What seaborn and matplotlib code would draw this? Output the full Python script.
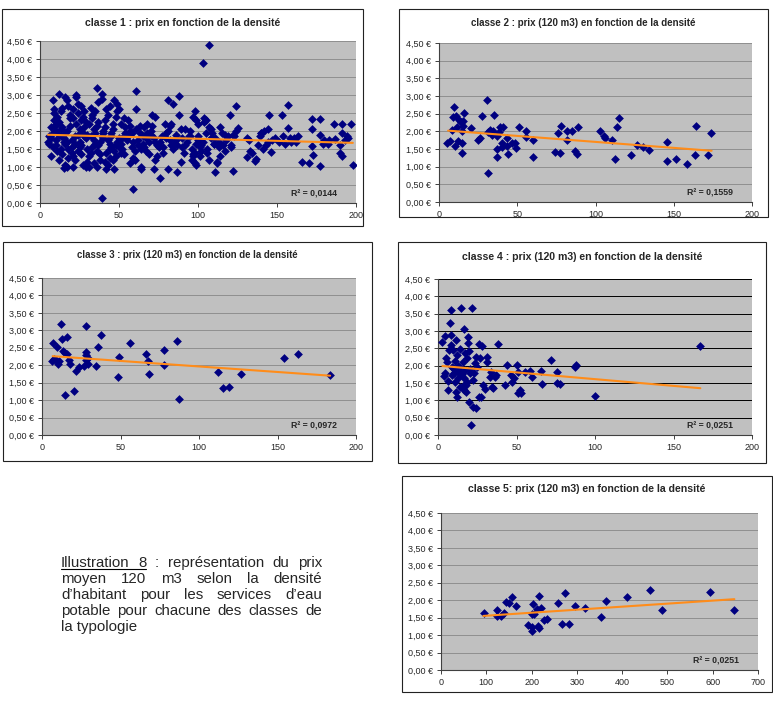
import matplotlib
matplotlib.use("Agg")
import matplotlib.pyplot as plt
import seaborn as sns
import pandas as pd
from matplotlib.ticker import FuncFormatter, MultipleLocator
from matplotlib.patches import Rectangle
from matplotlib.lines import Line2D

# ---------------- DATA ----------------
# classe 1 : densité (hab/km2) et prix (€)
dens1 = [5, 6, 7, 7, 8, 9, 9, 6, 8, 9, 7, 8, 9, 10,
         12, 11, 12, 13, 10, 11, 12, 13, 14, 10, 11, 12, 13, 14, 14, 13, 15,
         16, 17, 15, 16, 17, 18, 18, 19, 15, 16, 17, 18, 19, 20, 16, 19, 17, 20,
         23, 23, 21, 22, 21, 24, 20, 22, 23, 24, 21, 25, 22, 24, 21, 25, 24,
         27, 29, 26, 27, 28, 26, 29, 27, 28, 26, 30, 29, 25, 28, 30, 26,
         31, 32, 33, 31, 34, 32, 33, 30, 34, 35, 31, 33, 32, 34, 35,
         36, 37, 39, 36, 38, 35, 37, 38, 36, 39, 40, 37, 38, 36, 39, 39, 40,
         41, 42, 43, 41, 42, 43, 44, 40, 41, 42, 44, 43, 45, 44, 44, 45,
         47, 47, 46, 48, 46, 49, 45, 47, 48, 49, 50, 46, 48, 49, 50,
         50, 51, 52, 53, 51, 54, 52, 53, 55, 54, 51, 55,
         56, 57, 56, 58, 57, 59, 58, 59, 60, 57, 59,
         61, 61, 62, 60, 63, 61, 64, 62, 65, 63, 64, 64,
         66, 67, 68, 66, 69, 68, 67, 70, 65, 69,
         71, 73, 72, 73, 74, 71, 72, 74, 70, 73, 75,
         76, 77, 78, 79, 76, 80, 78,
         81, 84, 81, 82, 83, 80, 84, 82, 83, 85, 81,
         88, 87, 89, 88, 86, 87, 89, 90, 86, 90,
         92, 91, 93, 94, 92, 95,
         98, 97, 99, 96, 97, 98, 95, 99, 96, 100, 98, 99, 100, 97,
         103, 104, 104, 101, 102, 103, 100, 105, 101, 102, 105,
         107, 107, 107, 106, 108, 109, 110, 106, 108,
         111, 112, 112, 113, 111, 114, 115, 113, 114, 110,
         116, 117, 118, 120, 119, 117,
         124, 122, 121, 123, 122, 124, 121, 125,
         131, 131, 133, 132, 134,
         136, 137, 139, 138, 140,
         141, 143, 140, 142, 144, 144,
         145, 146, 147, 149,
         151, 153, 154, 155,
         157, 157, 158, 159,
         161, 162, 163,
         166, 170,
         172, 172, 172, 173,
         177, 177, 177, 180, 179,
         183, 182,
         186, 187,
         191, 191, 190, 190, 191, 194, 193,
         197, 198, 195]
prix1 = [1.70, 1.85, 2.10, 1.30, 2.85, 2.60, 2.15, 1.65, 1.95, 2.50, 1.80, 1.55, 2.30, 2.00,
         3.02, 2.20, 1.20, 1.50, 1.75, 2.40, 1.90, 2.05, 2.65, 1.60, 1.45, 2.25, 1.85, 2.10, 1.35, 2.55, 1.70,
         2.95, 2.85, 0.98, 1.05, 1.00, 1.50, 2.70, 2.35, 1.80, 1.65, 2.00, 1.25, 2.15, 1.40, 1.95, 2.45, 1.70, 1.55,
         3.00, 2.95, 1.00, 1.20, 2.60, 2.50, 1.75, 1.85, 2.20, 1.45, 1.30, 2.05, 1.65, 1.90, 2.35, 1.55, 2.75,
         1.05, 1.00, 2.70, 2.40, 2.55, 1.60, 1.80, 1.95, 2.10, 1.35, 1.50, 2.25, 1.70, 1.85, 1.15, 2.30,
         1.00, 2.65, 2.45, 2.20, 1.75, 1.40, 1.55, 1.90, 2.05, 1.65, 1.30, 2.35, 1.85, 1.10, 1.95,
         3.20, 2.80, 0.15, 1.00, 1.20, 2.55, 2.25, 1.70, 1.45, 1.85, 2.00, 1.60, 1.35, 2.15, 3.02, 2.90, 1.80,
         1.15, 0.95, 1.05, 2.30, 2.60, 1.75, 1.50, 1.95, 2.10, 1.40, 1.65, 2.45, 1.85, 1.25, 2.70, 1.55,
         2.85, 0.95, 1.20, 2.40, 2.20, 1.70, 1.95, 1.45, 1.60, 2.55, 1.80, 2.05, 1.30, 2.75, 1.55,
         2.60, 2.20, 1.80, 1.35, 1.65, 1.95, 1.50, 2.35, 1.75, 2.10, 1.40, 1.85,
         2.30, 1.10, 1.85, 1.55, 2.15, 1.70, 1.95, 0.40, 1.45, 2.00, 1.25,
         3.10, 2.62, 1.75, 1.20, 1.95, 2.05, 1.50, 1.60, 1.85, 2.15, 1.00, 0.95,
         2.10, 1.80, 1.95, 1.55, 1.70, 2.20, 1.45, 1.90, 1.65, 1.35,
         2.45, 2.40, 0.95, 1.20, 1.30, 2.15, 1.80, 1.60, 2.00, 1.70, 1.55,
         0.70, 1.85, 1.55, 2.20, 1.70, 1.95, 1.40,
         2.85, 2.75, 0.95, 2.15, 1.60, 1.80, 1.50, 1.75, 2.20, 1.65, 2.00,
         2.98, 0.85, 1.15, 2.45, 1.75, 1.60, 2.05, 1.55, 1.90, 1.80,
         2.05, 1.40, 1.70, 1.85, 1.60, 2.00,
         2.55, 2.40, 2.30, 1.20, 1.30, 1.40, 1.85, 1.65, 1.50, 2.20, 1.10, 1.05, 1.75, 1.35,
         3.90, 2.35, 2.25, 1.55, 1.45, 1.70, 1.85, 1.95, 1.30, 1.60, 2.30,
         4.40, 2.10, 1.20, 1.50, 1.80, 1.95, 1.65, 1.40, 2.05,
         0.87, 1.10, 1.15, 1.55, 1.80, 2.10, 1.95, 1.70, 1.30, 1.65,
         1.60, 1.45, 1.75, 2.45, 1.85, 1.90,
         2.70, 0.88, 1.55, 1.85, 1.90, 2.00, 1.60, 2.08,
         1.80, 1.28, 1.45, 1.75, 1.40,
         1.18, 1.22, 1.85, 1.60, 1.95,
         1.50, 1.60, 1.95, 2.00, 2.05, 1.70,
         2.45, 1.42, 1.75, 1.80,
         1.70, 2.45, 1.85, 1.65,
         2.73, 2.08, 1.80, 1.70,
         1.80, 1.70, 1.85,
         1.15, 1.12,
         2.33, 2.05, 1.58, 1.33,
         2.33, 1.02, 1.90, 1.75, 1.65,
         1.75, 1.65,
         2.20, 1.78,
         2.20, 1.95, 1.60, 1.38, 1.30, 1.85, 1.75,
         2.20, 1.05, 1.80]
trend1_x = [5, 198]
trend1_y = [1.895, 1.67]

# classe 2
dens2 = [5.1, 6.8, 8.5, 9.6, 9.0, 10.6, 10.4, 11.5, 12.6, 12.1,
         14.0, 14.7, 14.5, 14.5, 15.8, 15.5, 15.5, 20.7, 24.7, 26.2,
         27.7, 30.9, 31.5, 31.4, 32.9, 34.5, 33.8, 34.9, 36.8, 37.3,
         37.0, 38.8, 38.5, 40.0, 40.0, 41.1, 43.4, 43.2, 43.9, 46.9,
         48.7, 49.0, 50.9, 55.6, 55.6, 60.1, 60.3, 73.9, 75.8, 77.5,
         78.2, 81.8, 82.0, 85.2, 86.9, 88.2, 89.0, 102.7, 105.4, 106.3,
         110.5, 112.2, 114.0, 115.2, 122.5, 126.3, 130.3, 134.0, 145.7, 145.9,
         151.2, 158.5, 163.6, 164.0, 171.9, 173.8]
prix2 = [1.68, 1.72, 2.04, 2.68, 2.40, 2.44, 1.59, 2.13, 2.32, 1.73,
         2.27, 2.01, 1.68, 1.40, 2.51, 2.28, 2.15, 2.10, 1.75, 1.82,
         2.43, 2.89, 0.82, 1.97, 2.04, 2.02, 1.91, 2.46, 1.87, 1.50,
         1.26, 2.13, 1.99, 1.68, 1.56, 2.13, 1.80, 1.58, 1.36, 1.68,
         1.68, 1.54, 2.12, 2.01, 1.83, 1.75, 1.26, 1.42, 1.94, 1.40,
         2.16, 2.02, 1.75, 2.01, 1.44, 1.37, 2.13, 2.01, 1.88, 1.80,
         1.75, 1.23, 2.13, 2.37, 1.32, 1.61, 1.56, 1.46, 1.70, 1.16,
         1.21, 1.07, 1.33, 2.14, 1.33, 1.96]
trend2_x = [5.8, 174.2]
trend2_y = [2.02, 1.45]

# classe 3
dens3 = [6.4, 7.0, 7.8, 9.1, 9.8, 10.0, 10.8, 12.3, 12.7, 13.2,
         14.4, 14.8, 15.9, 15.7, 17.4, 18.0, 20.6, 21.6, 23.5, 26.5,
         27.8, 27.8, 27.8, 27.8, 29.3, 29.5, 34.1, 35.6, 37.8, 48.1,
         49.0, 56.2, 66.2, 67.4, 67.9, 77.4, 78.0, 85.9, 87.4, 112.4,
         115.6, 119.4, 127.0, 154.2, 162.9, 183.7]
prix3 = [2.11, 2.63, 2.19, 2.16, 2.51, 2.03, 2.11, 3.19, 2.76, 2.40,
         1.15, 2.36, 2.80, 2.33, 2.16, 2.04, 1.25, 1.84, 1.94, 1.97,
         3.13, 2.38, 2.28, 2.16, 2.21, 2.03, 1.99, 2.51, 2.86, 1.65,
         2.23, 2.63, 2.33, 2.11, 1.75, 2.45, 2.02, 2.68, 1.04, 1.82,
         1.34, 1.38, 1.76, 2.22, 2.33, 1.71]
trend3_x = [6.8, 183.5]
trend3_y = [2.26, 1.70]

# classe 4
dens4 = [2.8, 3.6, 4.7, 4.2, 5.3, 5.7, 6.4, 6.4, 7.4, 8.1,
         7.0, 8.5, 8.5, 8.9, 9.6, 9.6, 10.6, 11.3, 11.0, 11.7,
         12.1, 12.3, 12.7, 13.4, 13.8, 14.2, 14.9, 14.9, 15.9, 16.3,
         16.6, 16.8, 17.0, 17.4, 17.8, 18.5, 18.7, 19.1, 19.1, 19.5,
         19.9, 20.6, 21.7, 21.2, 22.3, 24.2, 22.9, 23.4, 24.0, 24.8,
         25.9, 26.1, 27.4, 28.0, 27.0, 28.7, 29.7, 30.9, 31.2, 32.9,
         34.0, 34.4, 35.2, 36.1, 37.2, 38.2, 42.5, 44.2, 46.3, 47.3,
         48.4, 50.3, 50.9, 50.9, 52.0, 52.7, 55.2, 58.4, 59.9, 65.8,
         66.2, 72.2, 75.8, 76.0, 77.7, 87.0, 87.7, 100.0, 166.7,
         10.0, 13.0, 15.5, 18.0, 20.5, 12.5, 16.0, 22.0, 9.0, 14.0]
prix4 = [2.69, 1.71, 2.87, 1.78, 2.21, 2.12, 1.56, 1.30, 3.24, 2.88,
         2.45, 3.61, 2.60, 1.73, 2.45, 1.92, 2.13, 2.73, 1.54, 1.25,
         1.11, 2.31, 1.85, 1.97, 2.48, 1.39, 3.65, 1.83, 2.12, 1.63,
         1.30, 3.06, 2.36, 1.88, 1.25, 2.21, 1.54, 2.84, 2.64, 0.96,
         2.43, 1.78, 3.67, 0.29, 0.82, 0.77, 1.78, 2.07, 2.26, 1.97,
         2.62, 1.11, 1.09, 2.57, 2.21, 1.44, 1.33, 2.26, 2.12, 1.68,
         1.83, 1.39, 1.35, 1.68, 1.73, 2.63, 1.44, 2.02, 1.73, 1.54,
         1.63, 2.02, 1.83, 1.20, 1.30, 1.20, 1.83, 1.85, 1.68, 1.85,
         1.47, 2.16, 1.81, 1.51, 1.46, 1.97, 2.02, 1.13, 2.57,
         1.80, 1.65, 1.75, 1.45, 1.90, 2.00, 1.40, 1.60, 1.95, 1.75]
trend4_x = [2.8, 167.1]
trend4_y = [1.99, 1.35]

# classe 5
dens5 = [94.3, 123.0, 123.0, 132.6, 139.3, 143.7, 149.6, 157.7, 165.0, 191.6,
         201.0, 201.0, 200.4, 203.4, 206.3, 211.5, 213.7, 216.7, 216.7, 220.3,
         227.7, 233.6, 257.9, 268.2, 274.9, 283.0, 296.2, 316.9, 353.0, 363.3,
         411.2, 462.0, 487.1, 594.0, 646.3]
prix5 = [1.62, 1.73, 1.55, 1.54, 1.62, 1.95, 1.91, 2.10, 1.84, 1.29,
         1.24, 1.12, 1.60, 1.89, 1.60, 1.74, 1.26, 1.19, 2.13, 1.79,
         1.43, 1.45, 1.93, 1.31, 2.22, 1.33, 1.83, 1.79, 1.53, 1.98,
         2.10, 2.28, 1.71, 2.23, 1.73]
trend5_x = [93.6, 647.8]
trend5_y = [1.55, 2.03]

titles = ["classe 1 : prix en fonction de la densité",
          "classe 2 : prix (120 m3) en fonction de la densité",
          "classe 3 : prix (120 m3) en fonction de la densité",
          "classe 4 : prix (120 m3) en fonction de la densité",
          "classe 5: prix (120 m3) en fonction de la densité"]
r2_labels = ["R² = 0,0144", "R² = 0,1559", "R² = 0,0972", "R² = 0,0251", "R² = 0,0251"]
caption_lines = ["Illustration 8 : représentation du prix",
                 "moyen 120 m3 selon la densité",
                 "d’habitant pour les services d’eau",
                 "potable pour chacune des classes de",
                 "la typologie"]

# ---------------- STYLE / LAYOUT ----------------
sns.set_style("white")
plt.rcParams['font.family'] = ['Liberation Sans', 'DejaVu Sans']

W, H = 773, 715
fig = plt.figure(figsize=(W / 100, H / 100), dpi=100)
fig.patch.set_facecolor("white")

def rect(l, t, r, b):
    return [l / W, 1 - b / H, (r - l) / W, (b - t) / H]

panels = [
    dict(x=dens1, y=prix1, tx=trend1_x, ty=trend1_y, box=(2, 9, 363, 226), area=(40, 41, 356, 203),
         title_y=23, title_size=7.6, xmax=200, xstep=50, grid="#8f8f8f"),
    dict(x=dens2, y=prix2, tx=trend2_x, ty=trend2_y, box=(399, 9, 768, 217), area=(439, 43, 752, 202),
         title_y=23, title_size=7.0, xmax=200, xstep=50, grid="#8f8f8f"),
    dict(x=dens3, y=prix3, tx=trend3_x, ty=trend3_y, box=(3, 242, 372, 461), area=(42, 278, 356, 435),
         title_y=255, title_size=6.9, xmax=200, xstep=50, grid="#8f8f8f"),
    dict(x=dens4, y=prix4, tx=trend4_x, ty=trend4_y, box=(398, 242, 766, 463), area=(438, 279, 752, 435),
         title_y=257, title_size=7.6, xmax=200, xstep=50, grid="#000000"),
    dict(x=dens5, y=prix5, tx=trend5_x, ty=trend5_y, box=(402, 476, 772, 692), area=(441, 513, 758, 670),
         title_y=489, title_size=7.6, xmax=700, xstep=100, grid="#8f8f8f"),
]

euro_fmt = FuncFormatter(lambda v, p: f"{v:.2f}".replace(".", ",") + " €")

for i, pn in enumerate(panels):
    l, t, r, b = pn["box"]
    fig.patches.append(Rectangle((l / W, 1 - b / H), (r - l) / W, (b - t) / H,
                                 transform=fig.transFigure, fill=False,
                                 edgecolor="#222222", linewidth=0.8))
    fig.text(((l + r) / 2) / W, 1 - pn["title_y"] / H, titles[i], ha="center", va="center",
             fontsize=pn["title_size"], fontweight="bold")
    ax = fig.add_axes(rect(*pn["area"]))
    ax.set_facecolor("#c0c0c0")
    df = pd.DataFrame({"densite": pn["x"], "prix": pn["y"]})
    sns.scatterplot(data=df, x="densite", y="prix", ax=ax, marker="D", s=20,
                    color="#000080", linewidth=0, zorder=3)
    sns.lineplot(x=pn["tx"], y=pn["ty"], ax=ax, color="#ff8c1a", linewidth=1.5, zorder=4)
    ax.set_xlim(0, pn["xmax"])
    ax.set_ylim(0, 4.5)
    ax.xaxis.set_major_locator(MultipleLocator(pn["xstep"]))
    ax.yaxis.set_major_locator(MultipleLocator(0.5))
    ax.yaxis.set_major_formatter(euro_fmt)
    ax.grid(axis="y", color=pn["grid"], linewidth=0.7)
    ax.set_axisbelow(True)
    ax.set_xlabel("")
    ax.set_ylabel("")
    for s in ("top", "right"):
        ax.spines[s].set_visible(False)
    for s in ("left", "bottom"):
        ax.spines[s].set_color("#404040")
        ax.spines[s].set_linewidth(0.8)
    ax.tick_params(axis="both", direction="out", length=3, width=0.7, color="#404040",
                   labelsize=6.5, pad=3, left=True, bottom=True)
    ax.text(0.94, 0.055, r2_labels[i], transform=ax.transAxes, ha="right", va="center",
            fontsize=6.3, fontweight="bold")

# ---------------- CAPTION (justified) ----------------
fig.canvas.draw()
renderer = fig.canvas.get_renderer()
x_left, x_right = 61, 322
baselines = [567, 583, 599, 615, 631]
cap_size = 10.8
for li, line in enumerate(caption_lines):
    words = line.split(" ")
    y = 1 - baselines[li] / H
    if li == len(caption_lines) - 1:
        fig.text(x_left / W, y, line, ha="left", va="baseline", fontsize=cap_size)
        continue
    objs = [fig.text(0, y, w, ha="left", va="baseline", fontsize=cap_size) for w in words]
    widths = [o.get_window_extent(renderer).width for o in objs]
    gap = (x_right - x_left - sum(widths)) / (len(words) - 1)
    xpos = x_left
    starts = []
    for o, wdt in zip(objs, widths):
        o.set_x(xpos / W)
        starts.append((xpos, wdt))
        xpos += wdt + gap
    if li == 0:
        ux0 = starts[0][0]
        ux1 = starts[1][0] + starts[1][1]
        uy = 1 - (baselines[0] + 2) / H
        fig.lines.append(Line2D([ux0 / W, ux1 / W], [uy, uy], transform=fig.transFigure,
                                color="black", linewidth=0.8))

fig.savefig("out.png", dpi=100)
